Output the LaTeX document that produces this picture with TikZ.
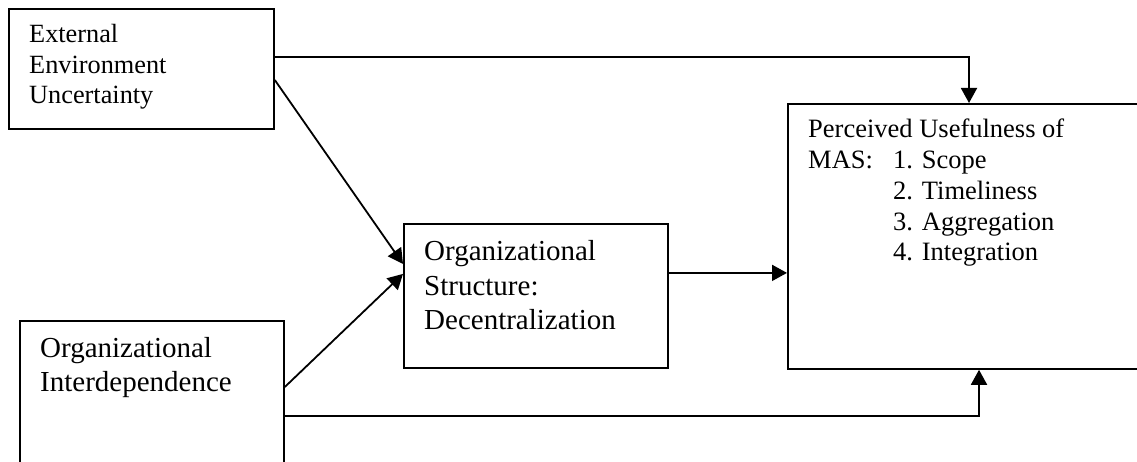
\documentclass[tikz,border=0pt]{standalone}
\usepackage{fontspec}
\setmainfont{Liberation Serif}
\usetikzlibrary{arrows.meta}
\begin{document}
\begin{tikzpicture}[x=1pt,y=-1pt,
  box/.style={draw, line width=1.8pt, inner sep=0pt, anchor=north west},
  txt/.style={anchor=base west, inner sep=0pt},
  smalltext/.style={font=\fontsize{26.3}{30.5}\selectfont},
  largetext/.style={font=\fontsize{29}{34.5}\selectfont},
  arr/.style={line width=1.8pt, -{Triangle[length=15pt,width=16pt]}}]
\useasboundingbox (0,0) rectangle (1137,462);
\clip (0,0) rectangle (1137,462);

% boxes
\node[box, minimum width=265pt, minimum height=120pt] (ext) at (8,8) {};
\node[box, minimum width=264pt, minimum height=180pt] (inter) at (19,320) {};
\node[box, minimum width=264pt, minimum height=144pt] (org) at (403,223) {};
\node[box, minimum width=400pt, minimum height=265pt] (pu) at (787,103) {};

% box texts
\node[txt, smalltext] (extT) at (29,43)
  {\begin{tabular}[t]{@{}l@{}}External\\Environment\\Uncertainty\end{tabular}};
\node[txt, largetext] (interT) at (40,357)
  {\begin{tabular}[t]{@{}l@{}}Organizational\\Interdependence\end{tabular}};
\node[txt, largetext] (orgT) at (424,261)
  {\begin{tabular}[t]{@{}l@{}}Organizational\\Structure:\\Decentralization\end{tabular}};
\node[txt, font=\fontsize{26.5}{30.7}\selectfont] (puT) at (808,138)
  {\begin{tabular}[t]{@{}l@{}l@{}}
    \multicolumn{2}{@{}l@{}}{Perceived Usefulness of}\\
    \makebox[85pt][l]{MAS:} & 1. Scope\\
     & 2. Timeliness\\
     & 3. Aggregation\\
     & 4. Integration
   \end{tabular}};

% connectors
\draw[arr] ([yshift=12pt]ext.east) -| ([xshift=182pt]pu.north west);
\draw[arr] ([yshift=-96pt]inter.north east) -| ([xshift=192pt]pu.south west);
\draw[arr] ([yshift=-72pt]ext.north east) -- ([yshift=32pt]org.west);
\draw[arr] ([yshift=-67pt]inter.north east) -- ([yshift=22pt]org.west);
\draw[arr] ([yshift=23pt]org.east) -- ([yshift=23pt]org.east -| pu.west);
\end{tikzpicture}
\end{document}
